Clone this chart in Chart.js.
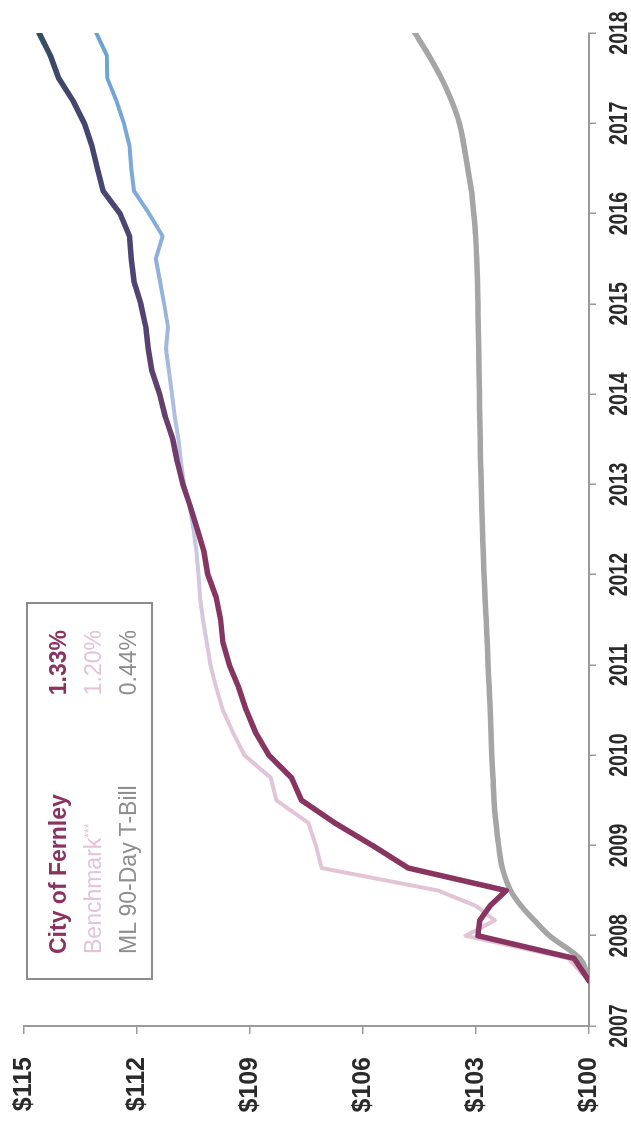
<!DOCTYPE html>
<html>
<head>
<meta charset="utf-8">
<script src="https://cdn.jsdelivr.net/npm/chart.js@4.4.1/dist/chart.umd.min.js"></script>
<style>
  html, body { margin: 0; padding: 0; background: #fff; overflow: hidden; }
  body { width: 631px; height: 1127px; position: relative; }
  /* The chart is laid out landscape and turned a quarter turn counter-clockwise */
  #frame {
    position: absolute; left: 0; top: 0;
    width: 1127px; height: 631px;
    transform-origin: 0 0;
    transform: translate(0, 1127px) rotate(-90deg);
    background: #fff;
  }
  #growth { position: absolute; left: 0; top: 0; }
  #key {
    position: absolute; left: 147px; top: 26px;
    width: 374px; height: 123px;
    border: 2px solid #8c8c8c;
    font-family: "Liberation Sans", Arial, sans-serif;
    font-size: 23px;
  }
  #key .row {
    position: absolute; left: 24px; right: 26px;
    display: flex; justify-content: space-between; align-items: center;
    height: 30px;
  }
  #key sup { font-size: 12px; vertical-align: 8px; }
</style>
</head>
<body>
<div id="frame">
  <canvas id="growth" width="1127" height="631"></canvas>
  <div id="key"></div>
</div>
<script>
// Growth of $100, quarterly values (fractional years)
const dates = [
  2007.50, 2007.75, 2008.00, 2008.17, 2008.33, 2008.50, 2008.75,
  2009.00, 2009.25, 2009.50, 2009.75, 2010.00, 2010.25, 2010.50, 2010.75,
  2011.00, 2011.25, 2011.50, 2011.75, 2012.00, 2012.25, 2012.50, 2012.75,
  2013.00, 2013.25, 2013.50, 2013.75, 2014.00, 2014.25, 2014.50, 2014.75,
  2015.00, 2015.25, 2015.50, 2015.75, 2016.00, 2016.25, 2016.50, 2016.75,
  2017.00, 2017.25, 2017.50, 2017.75, 2018.00
];

const fernley = [
  100.00, 100.40, 102.95, 102.90, 102.63, 102.20, 104.80,
  105.75, 106.75, 107.63, 107.90, 108.50, 108.85, 109.10, 109.30,
  109.55, 109.72, 109.78, 109.90, 110.12, 110.22, 110.40, 110.58,
  110.78, 110.93, 111.05, 111.25, 111.40, 111.60, 111.70, 111.77,
  111.90, 112.08, 112.15, 112.20, 112.45, 112.90, 113.05, 113.20,
  113.40, 113.70, 114.08, 114.30, 114.60
];

const benchmark = [
  100.00, 100.55, 103.28, 102.50, 103.00, 104.00, 107.10,
  107.25, 107.45, 108.30, 108.45, 109.15, 109.45, 109.72, 109.90,
  110.05, 110.15, 110.25, 110.33, 110.37, 110.42, 110.50, 110.60,
  110.75, 110.83, 110.90, 111.00, 111.07, 111.15, 111.23, 111.18,
  111.28, 111.39, 111.50, 111.32, 111.68, 112.08, 112.15, 112.20,
  112.35, 112.55, 112.79, 112.80, 113.08
];

const tbill = [
  100.00, 100.25, 101.05, 101.45, 101.80, 102.08, 102.30,
  102.40, 102.47, 102.52, 102.55, 102.58, 102.60, 102.62, 102.65,
  102.68, 102.70, 102.73, 102.76, 102.79, 102.81, 102.83, 102.85,
  102.86, 102.88, 102.89, 102.90, 102.91, 102.92, 102.93, 102.94,
  102.95, 102.96, 102.98, 103.01, 103.06, 103.12, 103.22, 103.32,
  103.44, 103.65, 103.92, 104.25, 104.62
];

const seriesNames = ['City of Fernley', 'Benchmark', 'ML 90-Day T-Bill'];
const annualReturns = ['1.33%', '1.20%', '0.44%'];

const yearTicks = [2007, 2008, 2009, 2010, 2011, 2012, 2013, 2014, 2015, 2016, 2017, 2018];
const dollarTicks = [100, 103, 106, 109, 112, 115];

const FONT = '"Liberation Sans", Arial, sans-serif';
const AREA = { left: 101, top: 24, right: 1094, bottom: 589 };

const toPoints = vals => vals.map((v, i) => ({ x: dates[i], y: v }));

// Colour drifts along the time axis (older part warm, recent part cool)
function timeGradient(stops) {
  return (ctx) => {
    const chart = ctx.chart;
    const xs = chart.scales.x;
    if (!chart.chartArea || !xs) return stops[0][1];
    const x0 = xs.getPixelForValue(2007), x1 = xs.getPixelForValue(2018);
    const g = chart.ctx.createLinearGradient(x0, 0, x1, 0);
    stops.forEach(([yr, col]) => g.addColorStop((yr - 2007) / 11, col));
    return g;
  };
}

const fernleyStroke = timeGradient([
  [2007, '#8a3360'], [2012.3, '#853662'], [2013.6, '#6a3e6c'],
  [2014.8, '#524472'], [2016.5, '#464672'], [2017.8, '#3c4868'], [2018, '#2f5262']
]);
const benchmarkStroke = timeGradient([
  [2007, '#e4c2d4'], [2010.5, '#e0c6d8'], [2012.0, '#d0c8e0'],
  [2013.5, '#b6c2e0'], [2015.0, '#98b2dc'], [2016.3, '#7eaad8'], [2018, '#6aa2d6']
]);

// Year labels along the time axis, set in a narrow bold face
const yearLabels = {
  id: 'yearLabels',
  afterDraw(chart) {
    const xs = chart.scales.x;
    const c = chart.ctx;
    c.save();
    c.font = 'bold 25px ' + FONT;
    c.fillStyle = '#2a2a2a';
    c.textAlign = 'center';
    c.textBaseline = 'alphabetic';
    yearTicks.forEach(v => {
      c.save();
      c.translate(xs.getPixelForValue(v), xs.bottom - 4);
      c.scale(0.78, 1);
      c.fillText(String(v), 0, 0);
      c.restore();
    });
    c.restore();
  }
};

const chart = new Chart(document.getElementById('growth'), {
  type: 'line',
  data: {
    datasets: [
      { label: seriesNames[0], data: toPoints(fernley), borderColor: fernleyStroke, borderWidth: 5.5, tension: 0, order: 1 },
      { label: seriesNames[1], data: toPoints(benchmark), borderColor: benchmarkStroke, borderWidth: 4, tension: 0, order: 2 },
      { label: seriesNames[2], data: toPoints(tbill), borderColor: '#a5a5a5', borderWidth: 5.5, cubicInterpolationMode: 'monotone', order: 3 }
    ]
  },
  options: {
    responsive: false,
    devicePixelRatio: 1,
    animation: false,
    layout: { padding: { top: AREA.top, right: 1127 - AREA.right, left: 0, bottom: 0 } },
    elements: {
      point: { radius: 0, hoverRadius: 0 },
      line: { borderCapStyle: 'round', borderJoinStyle: 'round', fill: false }
    },
    plugins: { legend: { display: false }, tooltip: { enabled: false } },
    scales: {
      x: {
        type: 'linear', min: 2007, max: 2018,
        afterBuildTicks: s => { s.ticks = yearTicks.map(v => ({ value: v })); },
        afterFit: s => { s.height = 631 - AREA.bottom; s.paddingLeft = 0; s.paddingRight = 0; },
        ticks: { display: false },
        grid: { drawOnChartArea: false, drawTicks: true, tickLength: 7, color: '#9a9a9a', lineWidth: 1.5 },
        border: { display: true, color: '#9a9a9a', width: 2 }
      },
      y: {
        type: 'linear', min: 100, max: 115,
        afterBuildTicks: s => { s.ticks = dollarTicks.map(v => ({ value: v })); },
        afterFit: s => { s.width = AREA.left; s.paddingTop = 0; s.paddingBottom = 0; },
        ticks: {
          callback: v => '$' + v, autoSkip: false,
          color: '#2a2a2a', padding: 23,
          font: { family: FONT, size: 25, weight: 'bold' }
        },
        grid: { drawOnChartArea: false, drawTicks: true, tickLength: 8, color: '#9a9a9a', lineWidth: 1.5 },
        border: { display: true, color: '#9a9a9a', width: 2 }
      }
    }
  },
  plugins: [yearLabels]
});

// Nudge the outer padding so the plot area lands where intended
(function settleArea() {
  const ca = chart.chartArea;
  const p = chart.options.layout.padding;
  const dTop = AREA.top - ca.top, dRight = ca.right - AREA.right;
  const dLeft = AREA.left - ca.left, dBottom = ca.bottom - AREA.bottom;
  if (dTop || dRight || dLeft || dBottom) {
    p.top += dTop; p.right += dRight; p.left += dLeft; p.bottom += dBottom;
    chart.update('none');
  }
})();

// Key box with each series' annualised return
const keyStyles = [
  { color: '#8a3360', weight: 'bold' },
  { color: '#e2c4d6', weight: 'normal' },
  { color: '#8e8e8e', weight: 'normal' }
];
const key = document.getElementById('key');
seriesNames.forEach((name, i) => {
  const row = document.createElement('div');
  row.className = 'row';
  row.style.top = (15 + i * 35) + 'px';
  row.style.color = keyStyles[i].color;
  row.style.fontWeight = keyStyles[i].weight;
  const a = document.createElement('span');
  a.innerHTML = i === 1 ? name + '<sup>***</sup>' : name;
  const b = document.createElement('span');
  b.textContent = annualReturns[i];
  row.appendChild(a);
  row.appendChild(b);
  key.appendChild(row);
});
</script>
</body>
</html>
